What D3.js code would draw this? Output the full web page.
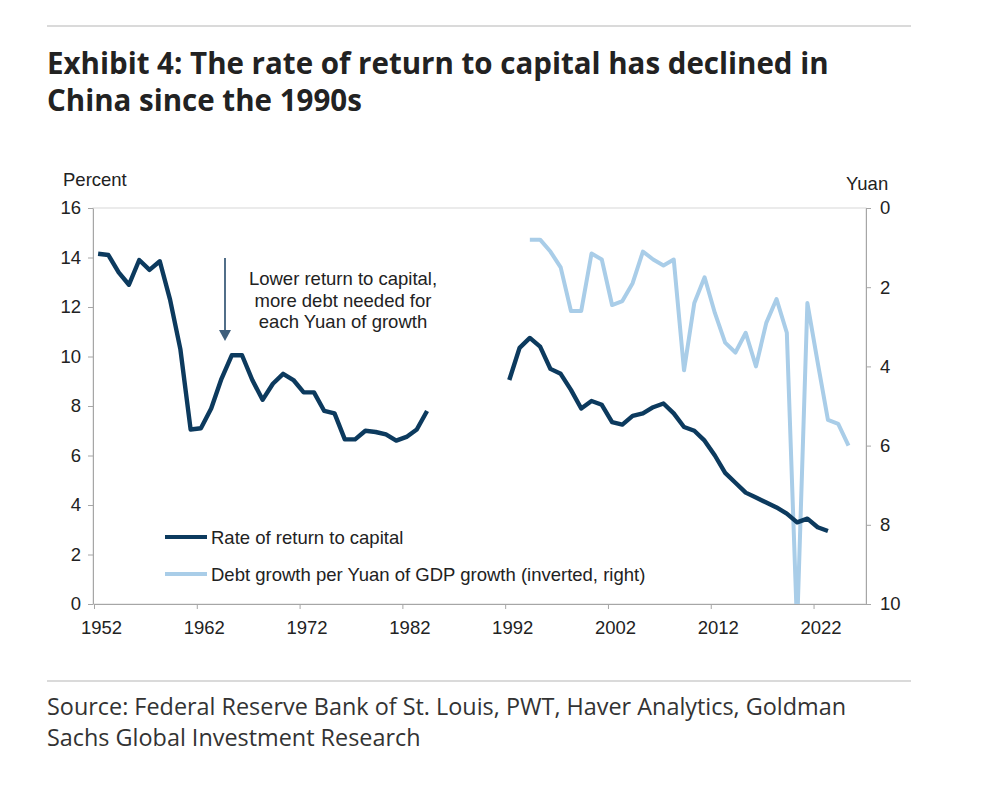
<!DOCTYPE html>
<html>
<head>
<meta charset="utf-8">
<script src="https://cdn.jsdelivr.net/npm/d3@7"></script>
<style>
  body { margin: 0; background: #fff; }
  svg text { font-family: "Liberation Sans", Arial, sans-serif; }
</style>
</head>
<body>
<svg id="chart" width="988" height="797"></svg>
<script>
// rate of return to capital (percent, left axis); null = hidden in the picture
const returnYears = d3.range(1952, 2024);
const returnValues = [
  14.15, 14.1, 13.4, 12.9, 13.9, 13.5, 13.85, 12.3, 10.3, 7.05,
  7.1, 7.9, 9.1, 10.05, 10.05, 9.05, 8.25, 8.9, 9.3, 9.05,
  8.55, 8.55, 7.8, 7.7, 6.65, 6.65, 7.0, 6.95, 6.85, 6.6,
  6.75, 7.05, 7.8, null, null, null, null, null, null, null,
  9.05, 10.35, 10.75, 10.4, 9.5, 9.3, 8.65, 7.9, 8.2, 8.05,
  7.35, 7.25, 7.6, 7.7, 7.95, 8.1, 7.7, 7.15, 7.0, 6.6,
  6.0, 5.3, 4.9, 4.5, 4.3, 4.1, 3.9, 3.65, 3.3, 3.45,
  3.1, 2.95
];

// debt growth per yuan of GDP growth (yuan, right axis, inverted)
const debtYears = d3.range(1994, 2026);
const debtValues = [
  0.8, 0.8, 1.1, 1.5, 2.6, 2.6, 1.15, 1.3, 2.45, 2.35,
  1.9, 1.1, 1.3, 1.45, 1.3, 4.1, 2.4, 1.75, 2.65, 3.4,
  3.65, 3.15, 4.0, 2.9, 2.3, 3.15, 10.6, 2.4, 3.9, 5.35,
  5.45, 6.0
];

const leftTicks = [0, 2, 4, 6, 8, 10, 12, 14, 16];
const rightTicks = [0, 2, 4, 6, 8, 10];
const yearTicks = [1952, 1962, 1972, 1982, 1992, 2002, 2012, 2022];

const titleLines = ["Exhibit 4: The rate of return to capital has declined in", "China since the 1990s"];
const sourceLines = ["Source: Federal Reserve Bank of St. Louis, PWT, Haver Analytics, Goldman", "Sachs Global Investment Research"];
const noteLines = ["Lower return to capital,", "more debt needed for", "each Yuan of growth"];
const legendItems = [
  { label: "Rate of return to capital", color: "#0c3a5e" },
  { label: "Debt growth per Yuan of GDP growth (inverted, right)", color: "#a9cde8" }
];

const fs = 18.5; // chart text size

const svg = d3.select("#chart");

// rules
svg.append("line").attr("x1", 47).attr("x2", 911).attr("y1", 26).attr("y2", 26).attr("stroke", "#b5b5b5").attr("stroke-width", 1.2);
svg.append("line").attr("x1", 47).attr("x2", 911).attr("y1", 681).attr("y2", 681).attr("stroke", "#b5b5b5").attr("stroke-width", 1.2);

// title
svg.append("g").selectAll("text").data(titleLines).join("text")
  .attr("x", 47).attr("y", (d, i) => 74 + i * 37)
  .style("font-family", "'Open Sans', sans-serif")
  .attr("font-weight", 700).attr("font-size", 29.5).attr("fill", "#222")
  .text(d => d);

// source
svg.append("g").selectAll("text").data(sourceLines).join("text")
  .attr("x", 47).attr("y", (d, i) => 715 + i * 31)
  .style("font-family", "'Open Sans', sans-serif")
  .attr("font-size", 23.4).attr("fill", "#333")
  .text(d => d);

// scales
const x = d3.scaleLinear().domain([1952, 2027.2]).range([94, 867]);
const yLeft = d3.scaleLinear().domain([0, 16]).range([604, 208]);
const yRight = d3.scaleLinear().domain([0, 10]).range([208, 604]);
const xPos = yr => x(yr + 0.4);

// plot frame
svg.append("rect").attr("x", 93).attr("y", 208).attr("width", 773).attr("height", 396)
  .attr("fill", "none").attr("stroke", "#d8d8d8");

const axisStyle = g => {
  g.select(".domain").attr("stroke", "#a6a6a6");
  g.selectAll(".tick line").attr("stroke", "#a6a6a6");
  g.selectAll("text").attr("fill", "#222").attr("font-size", fs)
    .style("font-family", "'Liberation Sans', Arial, sans-serif");
};

svg.append("g").attr("transform", "translate(93,0)")
  .call(d3.axisLeft(yLeft).tickValues(leftTicks).tickSize(5).tickPadding(7).tickSizeOuter(0))
  .call(axisStyle);

svg.append("g").attr("transform", "translate(866,0)")
  .call(d3.axisRight(yRight).tickValues(rightTicks).tickSize(5).tickPadding(9).tickSizeOuter(0))
  .call(axisStyle);

svg.append("g").attr("transform", "translate(0,604)")
  .call(d3.axisBottom(x).tickValues(yearTicks).tickFormat(d3.format("d")).tickSize(5).tickPadding(12).tickSizeOuter(0))
  .call(axisStyle)
  .call(g => g.selectAll("text").attr("dx", 7));

svg.append("text").attr("x", 63).attr("y", 186).attr("font-size", fs).attr("fill", "#222").text("Percent");
svg.append("text").attr("x", 846).attr("y", 190).attr("font-size", fs).attr("fill", "#222").text("Yuan");

// clip for lines
svg.append("clipPath").attr("id", "plotClip")
  .append("rect").attr("x", 93).attr("y", 200).attr("width", 773).attr("height", 404);

const debtLine = d3.line()
  .x((d, i) => xPos(debtYears[i]))
  .y(d => yRight(d));

const returnLine = d3.line()
  .defined(d => d !== null)
  .x((d, i) => xPos(returnYears[i]))
  .y(d => yLeft(d));

const lines = svg.append("g").attr("clip-path", "url(#plotClip)");
lines.append("path").datum(debtValues)
  .attr("d", debtLine).attr("fill", "none")
  .attr("stroke", legendItems[1].color).attr("stroke-width", 4).attr("stroke-linejoin", "round");
lines.append("path").datum(returnValues)
  .attr("d", returnLine).attr("fill", "none")
  .attr("stroke", legendItems[0].color).attr("stroke-width", 4.4).attr("stroke-linejoin", "round");

// annotation
const note = svg.append("g");
note.append("line").attr("x1", 225).attr("x2", 225).attr("y1", 258).attr("y2", 332)
  .attr("stroke", "#3f5f7c").attr("stroke-width", 1.8);
note.append("path").attr("d", "M219,330 L231,330 L225,341 Z").attr("fill", "#3f5f7c");
note.selectAll("text").data(noteLines).join("text")
  .attr("x", 343).attr("y", (d, i) => 285 + i * 21.5)
  .attr("text-anchor", "middle").attr("font-size", fs).attr("fill", "#222")
  .text(d => d);

// legend
const legend = svg.append("g").selectAll("g").data(legendItems).join("g")
  .attr("transform", (d, i) => `translate(165,${537 + i * 37})`);
legend.append("line").attr("x1", 0).attr("x2", 42)
  .attr("stroke", d => d.color).attr("stroke-width", 4);
legend.append("text").attr("x", 46).attr("y", 6.5).attr("font-size", fs).attr("fill", "#222")
  .text(d => d.label);
</script>
</body>
</html>
